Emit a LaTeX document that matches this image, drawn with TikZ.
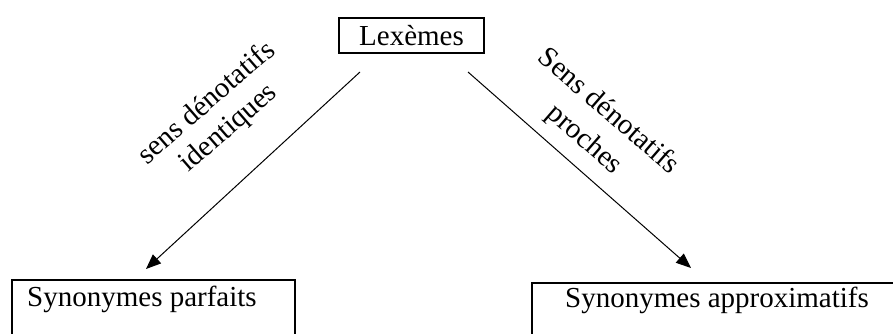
\documentclass[tikz,border=0pt]{standalone}
\usepackage{fontspec}
\setmainfont{Liberation Serif}
\usetikzlibrary{arrows.meta}
\begin{document}
\begin{tikzpicture}[x=1pt,y=-1pt,
  txt/.style={font=\fontsize{29}{31}\selectfont, inner sep=0pt},
  box/.style={draw, line width=2pt, inner sep=0pt},
  arr/.style={line width=1pt, -{Triangle[length=15pt,width=12pt]}}]
\useasboundingbox (0,0) rectangle (893,334);
\clip (0,0) rectangle (893,334);
% top box
\node[box, txt, minimum width=145pt, minimum height=35pt] (lex) at (411.5,35.5) {Lexèmes};
% bottom boxes (cut by the page bottom / right edge)
\node[box, minimum width=283pt, minimum height=80pt, anchor=north west] (sp) at (11,279) {};
\node[txt, anchor=base west] (tsp) at (27,306) {Synonymes parfaits};
\node[box, minimum width=420pt, minimum height=80pt, anchor=north west] (sa) at (531,281.5) {};
\node[txt, anchor=base west] (tsa) at (565,307) {Synonymes approximatifs};
% connector ends
\coordinate (l0) at (360,72);
\coordinate (l1) at (146,269);
\coordinate (r0) at (468,72);
\coordinate (r1) at (691,268);
\draw[arr] (l0) -- (l1);
\draw[arr] (r0) -- (r1);
% labels
\node[txt, rotate=41, align=center, font=\fontsize{29}{33}\selectfont] (la) at (218,116) {sens dénotatifs\\identiques};
\node[txt, rotate=-41, align=center, font=\fontsize{29}{37}\selectfont] (ra) at (596,126) {Sens dénotatifs\\proches};
\end{tikzpicture}
\end{document}
